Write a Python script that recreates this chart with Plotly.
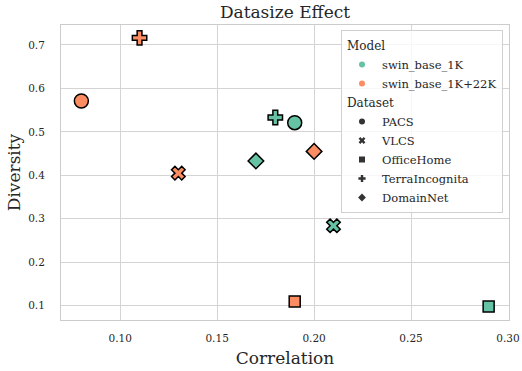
import plotly.graph_objects as go

datasets = ["PACS", "VLCS", "OfficeHome", "TerraIncognita", "DomainNet"]
models = ["swin_base_1K", "swin_base_1K+22K"]
corr_1k = [0.19, 0.21, 0.29, 0.18, 0.17]
div_1k = [0.521, 0.284, 0.098, 0.533, 0.433]
corr_22k = [0.08, 0.13, 0.19, 0.11, 0.20]
div_22k = [0.571, 0.405, 0.110, 0.716, 0.455]

colors = {"swin_base_1K": "#66c2a5", "swin_base_1K+22K": "#fc8d62"}
symbols = {"PACS": "circle", "VLCS": "x", "OfficeHome": "square",
           "TerraIncognita": "cross", "DomainNet": "diamond"}
sizes = {"PACS": 14, "VLCS": 12, "OfficeHome": 11, "TerraIncognita": 12, "DomainNet": 12}

FONT = "DejaVu Serif, serif"
TXT = "#262626"

fig = go.Figure()
for m, xs, ys in [(models[0], corr_1k, div_1k), (models[1], corr_22k, div_22k)]:
    for d, x, y in zip(datasets, xs, ys):
        fig.add_trace(go.Scatter(
            x=[x], y=[y], mode="markers", showlegend=False,
            marker=dict(symbol=symbols[d], size=sizes[d], color=colors[m],
                        line=dict(color="black", width=1.5)),
        ))

# legend entries
for m in models:
    fig.add_trace(go.Scatter(
        x=[None], y=[None], mode="markers", name=m,
        legendgroup="model", legendgrouptitle_text="Model",
        marker=dict(symbol="circle", size=6, color=colors[m]),
    ))
for d in datasets:
    fig.add_trace(go.Scatter(
        x=[None], y=[None], mode="markers", name=d,
        legendgroup="dataset", legendgrouptitle_text="Dataset",
        marker=dict(symbol=symbols[d], size=6, color="#333333"),
    ))

L, R, T, B = 61, 509, 25, 320
fig.update_layout(
    width=522, height=371,
    margin=dict(l=L, r=522 - R, t=T, b=371 - B),
    paper_bgcolor="white", plot_bgcolor="white",
    font=dict(family=FONT, color=TXT, size=10.5),
    title=dict(text="Datasize Effect", x=(L + R) / 2 / 522, xanchor="center",
               y=1 - 12 / 371, yanchor="middle", font=dict(size=17, family=FONT, color=TXT)),
    legend=dict(x=(503 - L) / (R - L), xanchor="right", y=1 - 5 / (B - T), yanchor="top",
                bgcolor="rgba(255,255,255,0.8)", bordercolor="#d0d0d0", borderwidth=1,
                font=dict(size=11.5, family=FONT, color=TXT),
                grouptitlefont=dict(size=12, family=FONT, color=TXT),
                tracegroupgap=0, itemsizing="trace", itemwidth=30),
    showlegend=True,
)
fig.update_xaxes(range=[0.0695, 0.3005], tickvals=[0.10, 0.15, 0.20, 0.25, 0.30],
                 tickformat=".2f", showgrid=True, gridcolor="#d4d4d4", gridwidth=1,
                 zeroline=False, showline=True, linecolor="#cccccc", linewidth=1, mirror=True,
                 ticks="", automargin=False, ticklabelstandoff=8,
                 title=dict(text="Correlation", font=dict(size=17, family=FONT, color=TXT), standoff=9),
                 tickfont=dict(size=10.5, family=FONT, color=TXT))
fig.update_yaxes(range=[0.0672, 0.7457], tickvals=[0.1, 0.2, 0.3, 0.4, 0.5, 0.6, 0.7],
                 tickformat=".1f", showgrid=True, gridcolor="#d4d4d4", gridwidth=1,
                 zeroline=False, showline=True, linecolor="#cccccc", linewidth=1, mirror=True,
                 ticks="", automargin=False, ticklabelstandoff=13,
                 title=dict(text="Diversity", font=dict(size=17, family=FONT, color=TXT), standoff=3),
                 tickfont=dict(size=10.5, family=FONT, color=TXT))

fig.write_html("out.html", config={"displayModeBar": False},
               post_script="document.body.style.margin='0';")
